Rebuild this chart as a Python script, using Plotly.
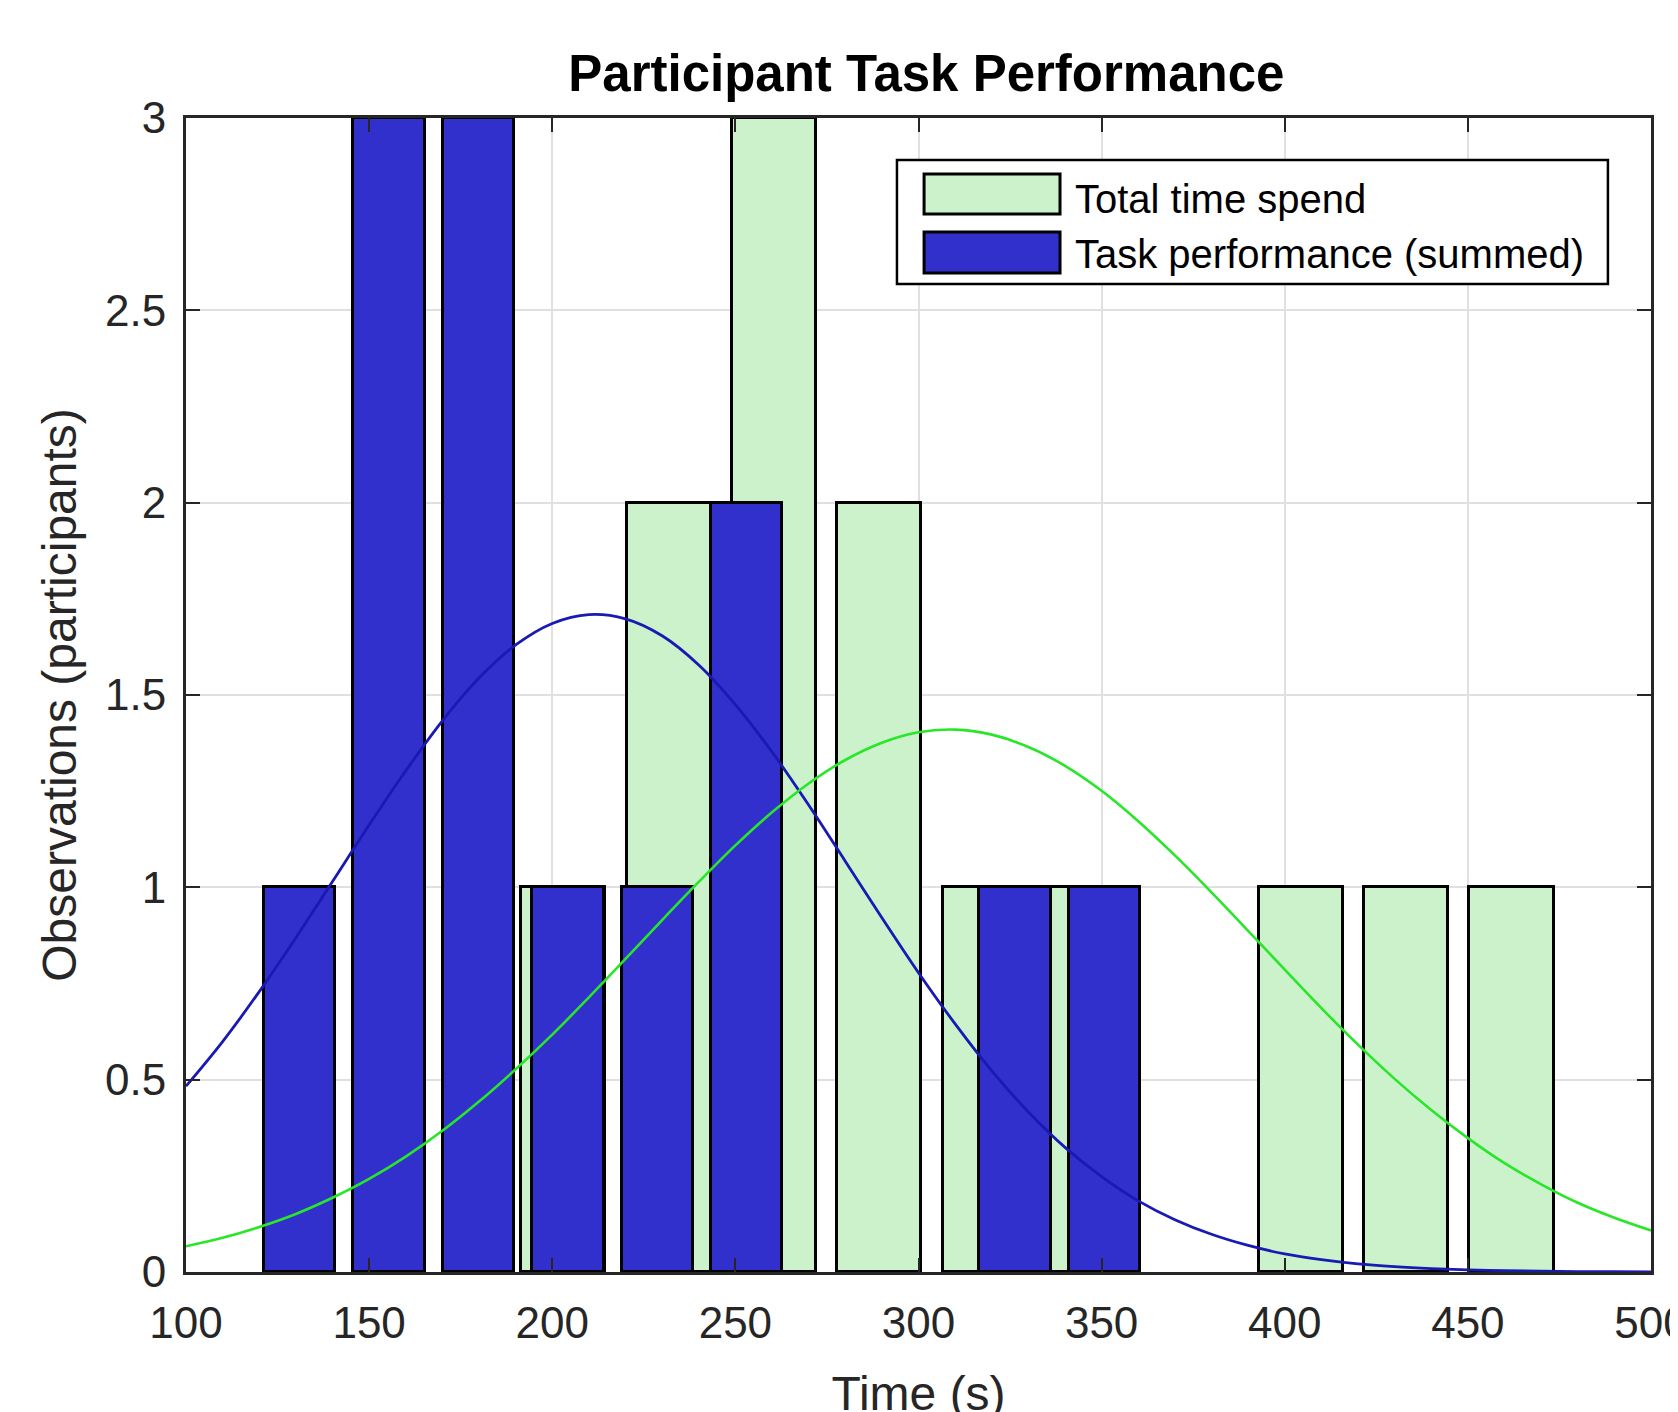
import plotly.graph_objects as go

# ---- data ----
total_bin_centers = [203.0, 231.8, 260.5, 289.3, 318.1, 346.9, 375.6, 404.4, 433.2, 461.9]
total_counts = [1, 2, 3, 2, 1, 1, 0, 1, 1, 1]
total_bar_width = 23.0

task_bin_centers = [131.0, 155.4, 179.8, 204.3, 228.7, 253.1, 277.5, 301.9, 326.4, 350.8]
task_counts = [1, 3, 3, 1, 1, 2, 0, 0, 1, 1]
task_bar_width = 19.5

curve_x = [100, 110, 120, 130, 140, 150, 160, 170, 180, 190, 200, 210, 220, 230, 240,
           250, 260, 270, 280, 290, 300, 310, 320, 330, 340, 350, 360, 370, 380, 390,
           400, 410, 420, 430, 440, 450, 460, 470, 480, 490, 500]
task_fit = [0.483, 0.599, 0.729, 0.869, 1.015, 1.162, 1.303, 1.433, 1.544, 1.630,
            1.686, 1.709, 1.698, 1.654, 1.578, 1.475, 1.352, 1.214, 1.068, 0.921,
            0.778, 0.645, 0.523, 0.416, 0.324, 0.248, 0.185, 0.136, 0.098, 0.069,
            0.047, 0.032, 0.021, 0.014, 0.009, 0.0055, 0.0034, 0.002, 0.0012, 0.0007, 0.0004]
total_fit = [0.067, 0.089, 0.117, 0.151, 0.193, 0.242, 0.300, 0.367, 0.443, 0.527,
             0.617, 0.714, 0.814, 0.915, 1.014, 1.109, 1.195, 1.270, 1.331, 1.376,
             1.403, 1.410, 1.397, 1.365, 1.316, 1.251, 1.172, 1.083, 0.987, 0.887,
             0.786, 0.686, 0.591, 0.502, 0.421, 0.348, 0.283, 0.228, 0.180, 0.141, 0.108]

x_ticks = [100, 150, 200, 250, 300, 350, 400, 450, 500]
y_ticks = [0, 0.5, 1, 1.5, 2, 2.5, 3]

legend_labels = ["Total time spend", "Task performance (summed)"]

# ---- styles ----
GREEN_FILL = "rgb(204,242,204)"
BLUE_FILL = "rgb(50,48,205)"
GREEN_LINE = "rgb(40,230,40)"
BLUE_LINE = "rgb(25,25,180)"
EDGE = "black"
FONT = "Liberation Sans, Arial, sans-serif"
AX = "#262626"


def nonzero(vals):
    # empty bins draw nothing
    return [v if v > 0 else None for v in vals]


fig = go.Figure()
fig.add_trace(go.Bar(x=total_bin_centers, y=nonzero(total_counts), width=total_bar_width,
                     marker=dict(color=GREEN_FILL, line=dict(color=EDGE, width=3)),
                     name=legend_labels[0], showlegend=False))
fig.add_trace(go.Bar(x=task_bin_centers, y=nonzero(task_counts), width=task_bar_width,
                     marker=dict(color=BLUE_FILL, line=dict(color=EDGE, width=3)),
                     name=legend_labels[1], showlegend=False))
fig.add_trace(go.Scatter(x=curve_x, y=task_fit, mode="lines",
                         line=dict(color=BLUE_LINE, width=2.8, shape="spline"),
                         showlegend=False, hoverinfo="skip"))
fig.add_trace(go.Scatter(x=curve_x, y=total_fit, mode="lines",
                         line=dict(color=GREEN_LINE, width=2.6, shape="spline"),
                         showlegend=False, hoverinfo="skip"))

# ---- custom legend (large swatches like the reference) ----
lx0, lx1, ly0, ly1 = 0.4853, 0.9706, 0.8562, 0.9636
shapes = [dict(type="rect", xref="paper", yref="paper", x0=lx0, x1=lx1, y0=ly0, y1=ly1,
               fillcolor="white", line=dict(color=EDGE, width=2.5), layer="above")]
sw = [(0.9168, 0.9515, GREEN_FILL), (0.8657, 0.9012, BLUE_FILL)]
for y0, y1, c in sw:
    shapes.append(dict(type="rect", xref="paper", yref="paper", x0=0.5038, x1=0.5966,
                       y0=y0, y1=y1, fillcolor=c, line=dict(color=EDGE, width=3),
                       layer="above"))
annotations = []
for lab, yc in zip(legend_labels, [0.9298, 0.8821]):
    annotations.append(dict(text=lab, xref="paper", yref="paper", x=0.6055, y=yc,
                            xanchor="left", yanchor="middle", showarrow=False,
                            font=dict(family=FONT, size=40, color="black")))

fig.update_layout(
    width=1678, height=1412,
    margin=dict(l=178, r=35, t=110, b=148, autoexpand=False),
    paper_bgcolor="white", plot_bgcolor="white",
    barmode="overlay", bargap=0,
    title=dict(text="<b>Participant Task Performance</b>", x=0.5473, xanchor="center",
               y=1 - 65 / 1412, yref="container", yanchor="middle",
               font=dict(family=FONT, size=51, color="black")),
    shapes=shapes, annotations=annotations,
    font=dict(family=FONT, color=AX),
)
fig.update_xaxes(range=[100, 500], tickvals=x_ticks, ticks="inside", ticklen=14,
                 tickwidth=2, tickcolor=AX, showline=True, linecolor=AX, linewidth=3,
                 mirror="allticks", showgrid=True, gridcolor="#e0e0e0", gridwidth=2,
                 zeroline=False, automargin=False, ticklabeloverflow="allow",
                 ticklabelstandoff=10,
                 tickfont=dict(family=FONT, size=44, color=AX),
                 title=dict(text="Time (s)", font=dict(family=FONT, size=48, color=AX),
                            standoff=42))
fig.update_yaxes(range=[0, 3], tickvals=y_ticks, ticks="inside", ticklen=14,
                 tickwidth=2, tickcolor=AX, showline=True, linecolor=AX, linewidth=3,
                 mirror="allticks", showgrid=True, gridcolor="#e0e0e0", gridwidth=2,
                 zeroline=False, automargin=False, ticklabelstandoff=8,
                 tickfont=dict(family=FONT, size=44, color=AX),
                 title=dict(text="Observations (participants)",
                            font=dict(family=FONT, size=48, color=AX), standoff=14))

fig.write_html("out.html")
